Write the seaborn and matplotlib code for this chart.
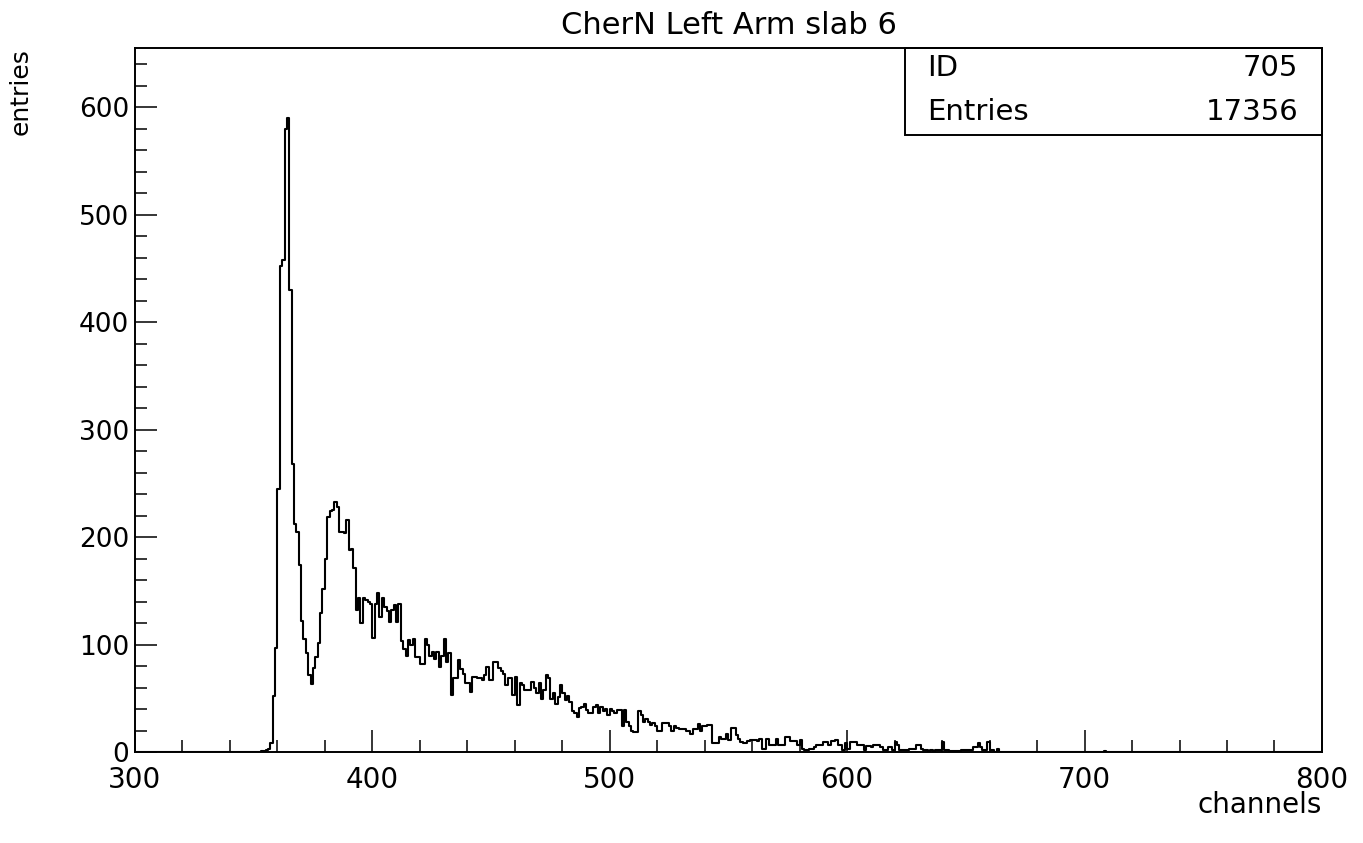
import numpy as np
import pandas as pd
import matplotlib
matplotlib.use("Agg")
import matplotlib.pyplot as plt
import seaborn as sns
from matplotlib.ticker import MultipleLocator
from matplotlib.patches import Rectangle

# ---------------- data ----------------
title = "CherN Left Arm slab 6"
x_label = "channels"
y_label = "entries"
stat_names = ["ID", "Entries"]
stat_values = ["705", "17356"]

first_channel = 352
counts = [
    0, 1, 1, 2, 3, 8, 52, 97, 245, 452,            # 352-361
    458, 580, 590, 430, 268, 212, 205, 174, 122, 105,  # 362-371
    92, 72, 63, 78, 88, 101, 129, 152, 180, 219,   # 372-381
    224, 225, 233, 228, 205, 205, 204, 216, 188, 189,  # 382-391
    171, 132, 143, 120, 143, 141, 140, 138, 106, 138,  # 392-401
    148, 126, 143, 135, 131, 121, 132, 137, 121, 138,  # 402-411
    103, 96, 89, 104, 100, 105, 88, 88, 82, 82,    # 412-421
    105, 100, 89, 93, 87, 93, 79, 89, 105, 84,     # 422-431
    92, 53, 69, 69, 86, 77, 73, 64, 64, 56,        # 432-441
    70, 70, 69, 69, 67, 72, 79, 67, 67, 84,        # 442-451
    84, 78, 75, 73, 62, 69, 69, 53, 70, 44,        # 452-461
    64, 62, 58, 58, 58, 65, 60, 55, 64, 49,        # 462-471
    58, 72, 69, 49, 55, 45, 51, 62, 55, 48,        # 472-481
    52, 47, 38, 36, 33, 41, 42, 45, 39, 36,        # 482-491
    36, 42, 44, 36, 42, 38, 40, 34, 40, 38,        # 492-501
    36, 39, 39, 24, 39, 28, 24, 20, 19, 19,        # 502-511
    38, 34, 28, 31, 28, 25, 27, 24, 20, 20,        # 512-521
    27, 27, 27, 24, 20, 24, 22, 21, 21, 21,        # 522-531
    20, 20, 17, 21, 21, 26, 20, 24, 24, 25,        # 532-541
    25, 8, 8, 8, 14, 12, 12, 17, 11, 22,           # 542-551
    22, 16, 12, 9, 8, 8, 10, 11, 11, 11,           # 552-561
    10, 12, 3, 3, 12, 7, 7, 7, 12, 7,              # 562-571
    7, 7, 14, 14, 10, 10, 10, 7, 11, 3,            # 572-581
    2, 2, 3, 3, 5, 7, 7, 7, 9, 9,                  # 582-591
    7, 10, 10, 11, 7, 7, 2, 8, 3, 9,               # 592-601
    9, 9, 7, 7, 7, 2, 6, 6, 5, 7,                  # 602-611
    7, 7, 5, 2, 2, 5, 5, 2, 9, 7,                  # 612-621
    2, 2, 2, 2, 3, 3, 3, 7, 7, 3,                  # 622-631
    2, 2, 0, 2, 0, 2, 2, 2, 9, 2,                  # 632-641
    2, 1, 1, 1, 1, 1, 2, 2, 2, 2,                  # 642-651
    2, 5, 5, 8, 5, 2, 2, 9, 2, 2,                  # 652-661
    0, 3,                                          # 662-663
]
extra_channels = [708]
extra_counts = [1]

x_min, x_max = 300, 800
y_max = 655

# ---------------- figure ----------------
channels = first_channel + np.arange(len(counts))
df = pd.DataFrame({
    "channel": np.concatenate([channels, extra_channels]).astype(float) + 0.5,
    "count": np.array(list(counts) + list(extra_counts), dtype=float),
})

sns.set_theme(style="white")
plt.rcParams["font.family"] = ["DejaVu Sans"]
plt.rcParams["axes.linewidth"] = 1.4

fig = plt.figure(figsize=(13.63, 8.43), dpi=100)
ax = fig.add_axes([0.0990, 0.1079, 0.8709, 0.8351])

sns.histplot(data=df, x="channel", weights="count",
             binwidth=1, binrange=(x_min, x_max),
             element="step", fill=False, color="black",
             linewidth=1.5, ax=ax)

ax.set_xlim(x_min, x_max)
ax.set_ylim(0, y_max)

for s in ax.spines.values():
    s.set_color("black")
    s.set_linewidth(1.4)

ax.xaxis.set_major_locator(MultipleLocator(100))
ax.xaxis.set_minor_locator(MultipleLocator(20))
ax.yaxis.set_major_locator(MultipleLocator(100))
ax.yaxis.set_minor_locator(MultipleLocator(20))
ax.tick_params(which="both", direction="in", top=False, right=False,
               bottom=True, left=True, color="black", width=1.1)
ax.tick_params(which="major", length=16)
ax.tick_params(which="minor", length=8.5)
ax.tick_params(axis="x", which="major", labelsize=20, pad=10, colors="black")
ax.tick_params(axis="y", which="major", labelsize=19, pad=4, colors="black")

ax.set_title(title, fontsize=22, pad=10, color="black")
ax.set_xlabel(x_label, fontsize=20, loc="right", color="black")
ax.xaxis.set_label_coords(1.0, -0.056)
ax.set_ylabel(y_label, fontsize=18, loc="top", color="black")
ax.yaxis.set_label_coords(-0.086, 1.0)

# stats box
bx0, by0 = 0.6487, 0.8764
ax.add_patch(Rectangle((bx0, by0), 1 - bx0, 1 - by0, transform=ax.transAxes,
                       fill=False, edgecolor="black", linewidth=1.4,
                       clip_on=False, zorder=5))
row_y = [0.9716, 0.909]
for name, val, yy in zip(stat_names, stat_values, row_y):
    ax.text(0.667, yy, name, transform=ax.transAxes, ha="left", va="center",
            fontsize=21, color="black")
    ax.text(0.98, yy, val, transform=ax.transAxes, ha="right", va="center",
            fontsize=21, color="black")

fig.savefig("out.png", dpi=100)
